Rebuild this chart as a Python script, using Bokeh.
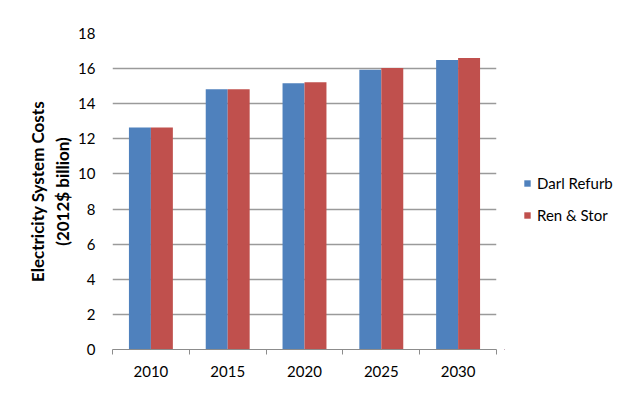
from bokeh.plotting import figure
from bokeh.layouts import row
from bokeh.models import (ColumnDataSource, Range1d, FixedTicker, Legend, LegendItem)
from bokeh.embed import file_html
from bokeh.resources import INLINE

years = ["2010", "2015", "2020", "2025", "2030"]
darl_refurb = [12.65, 14.82, 15.16, 15.94, 16.49]
ren_stor = [12.65, 14.82, 15.22, 16.03, 16.60]
series_names = ["Darl Refurb", "Ren & Stor"]
y_ticks = [0, 2, 4, 6, 8, 10, 12, 14, 16, 18]

FONT = "Lato"
BLUE = "#4F81BD"
RED = "#C0504D"
BAR_W = 0.286
H = 389

centers = [i + 0.5 for i in range(len(years))]
src = ColumnDataSource(dict(
    xb=[c - BAR_W / 2 for c in centers],
    xr=[c + BAR_W / 2 for c in centers],
    darl=darl_refurb,
    ren=ren_stor,
))

p = figure(width=504, height=H, output_backend="svg", toolbar_location=None,
           x_range=Range1d(0, len(years)), y_range=Range1d(0, 18),
           min_border_left=112, min_border_right=8, min_border_top=33,
           min_border_bottom=40)
p.outline_line_color = None

p.vbar(x="xb", top="darl", width=BAR_W, source=src, fill_color=BLUE, line_color=None)
p.vbar(x="xr", top="ren", width=BAR_W, source=src, fill_color=RED, line_color=None)

# x axis
p.xaxis.ticker = FixedTicker(ticks=centers, minor_ticks=list(range(len(years) + 1)))
p.xaxis.major_label_overrides = {c: y for c, y in zip(centers, years)}
p.xaxis.major_tick_line_color = None
p.xaxis.minor_tick_line_color = "#8c8c8c"
p.xaxis.minor_tick_in = 0
p.xaxis.minor_tick_out = 5
p.xaxis.axis_line_color = "#8c8c8c"
p.xaxis.major_label_text_font = FONT
p.xaxis.major_label_text_font_size = "15px"
p.xaxis.major_label_text_color = "#000000"
p.xaxis.major_label_standoff = 10
p.xgrid.grid_line_color = None

# y axis
p.yaxis.ticker = FixedTicker(ticks=y_ticks)
p.yaxis.axis_line_color = None
p.yaxis.major_tick_line_color = None
p.yaxis.major_tick_out = 0
p.yaxis.major_tick_in = 0
p.yaxis.minor_tick_line_color = None
p.yaxis.major_label_text_font = FONT
p.yaxis.major_label_text_font_size = "15px"
p.yaxis.major_label_text_color = "#000000"
p.yaxis.major_label_standoff = 17
p.yaxis.axis_label = "Electricity System Costs\n(2012$ billion)"
p.yaxis.axis_label_text_font = FONT
p.yaxis.axis_label_text_font_size = "17px"
p.yaxis.axis_label_text_font_style = "bold"
p.yaxis.axis_label_text_color = "#000000"
p.yaxis.axis_label_standoff = 2
p.ygrid.grid_line_color = "#9a9a9a"
p.ygrid.grid_line_width = 1.5

# legend panel (separate figure so it is not clipped by the chart frame);
# its bars use the same data but lie outside the panel's visible range
lf = figure(width=129, height=H, output_backend="svg", toolbar_location=None,
            x_axis_type=None, y_axis_type=None, min_border=0,
            x_range=Range1d(100, 101), y_range=Range1d(100, 101))
lf.outline_line_color = None
lb = lf.vbar(x="xb", top="darl", width=BAR_W, source=src, fill_color=BLUE, line_color=None)
lr = lf.vbar(x="xr", top="ren", width=BAR_W, source=src, fill_color=RED, line_color=None)

legend = Legend(items=[LegendItem(label=series_names[0], renderers=[lb], index=0),
                       LegendItem(label=series_names[1], renderers=[lr], index=0)],
                location=(19, 124))
legend.border_line_color = None
legend.background_fill_alpha = 0
legend.label_text_font = FONT
legend.label_text_font_size = "15px"
legend.label_text_color = "#000000"
legend.glyph_width = 8
legend.glyph_height = 8
legend.label_height = 20
legend.spacing = 12
legend.label_standoff = 6
legend.padding = 10
legend.margin = 0
lf.add_layout(legend)

layout = row(p, lf)
open("out.html", "w").write(file_html(layout, INLINE))
